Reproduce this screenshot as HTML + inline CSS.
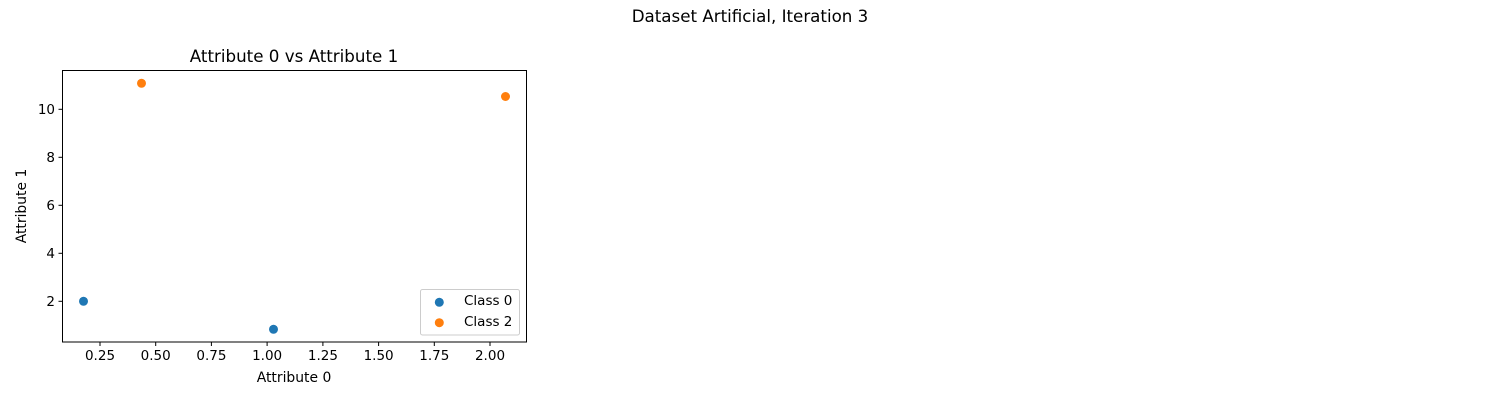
<!DOCTYPE html>
<html><head><style>body{margin:0;background:#fff}svg{display:block}text{font-family:"DejaVu Sans","Liberation Sans",sans-serif;fill:#000}</style></head>
<body>
<svg width="1500" height="400" viewBox="0 0 1500 400" xmlns="http://www.w3.org/2000/svg">
<rect width="1500" height="400" fill="#fff"/>
<text x="750" y="22" font-size="16.7" text-anchor="middle">Dataset Artificial, Iteration 3</text>
<text x="294" y="62" font-size="16.7" text-anchor="middle">Attribute 0 vs Attribute 1</text>
<rect x="62.5" y="70.5" width="464" height="271.5" fill="none" stroke="#000" stroke-width="1"/>
<g stroke="#000" stroke-width="1">
<line x1="100" y1="342" x2="100" y2="346"/><line x1="155.7" y1="342" x2="155.7" y2="346"/><line x1="211.4" y1="342" x2="211.4" y2="346"/><line x1="267.1" y1="342" x2="267.1" y2="346"/><line x1="322.9" y1="342" x2="322.9" y2="346"/><line x1="378.6" y1="342" x2="378.6" y2="346"/><line x1="434.3" y1="342" x2="434.3" y2="346"/><line x1="490" y1="342" x2="490" y2="346"/>
<line x1="58.5" y1="301.3" x2="62.5" y2="301.3"/><line x1="58.5" y1="253.3" x2="62.5" y2="253.3"/><line x1="58.5" y1="205.3" x2="62.5" y2="205.3"/><line x1="58.5" y1="157.3" x2="62.5" y2="157.3"/><line x1="58.5" y1="109.3" x2="62.5" y2="109.3"/>
</g>
<g font-size="13.5" text-anchor="middle">
<text x="100" y="360">0.25</text><text x="155.7" y="360">0.50</text><text x="211.4" y="360">0.75</text><text x="267.1" y="360">1.00</text><text x="322.9" y="360">1.25</text><text x="378.6" y="360">1.50</text><text x="434.3" y="360">1.75</text><text x="490" y="360">2.00</text>
</g>
<g font-size="13.5" text-anchor="end">
<text x="55" y="306">2</text><text x="55" y="258">4</text><text x="55" y="210">6</text><text x="55" y="162">8</text><text x="55" y="114">10</text>
</g>
<text x="294" y="382" font-size="13.9" text-anchor="middle">Attribute 0</text>
<text transform="translate(26,206) rotate(-90)" font-size="13.9" text-anchor="middle">Attribute 1</text>
<circle cx="83.5" cy="301.3" r="4.5" fill="#1f77b4"/>
<circle cx="273.5" cy="329.3" r="4.5" fill="#1f77b4"/>
<circle cx="141.5" cy="83.3" r="4.5" fill="#ff7f0e"/>
<circle cx="505.5" cy="96.5" r="4.5" fill="#ff7f0e"/>
<rect x="420.5" y="289.5" width="99" height="45.5" rx="2" fill="#fff" stroke="#ccc" stroke-width="1"/>
<circle cx="439.3" cy="302.3" r="4.5" fill="#1f77b4"/>
<circle cx="439.3" cy="322.7" r="4.5" fill="#ff7f0e"/>
<text x="464" y="305" font-size="13.5">Class 0</text>
<text x="464" y="326" font-size="13.5">Class 2</text>
</svg>
</body></html>
